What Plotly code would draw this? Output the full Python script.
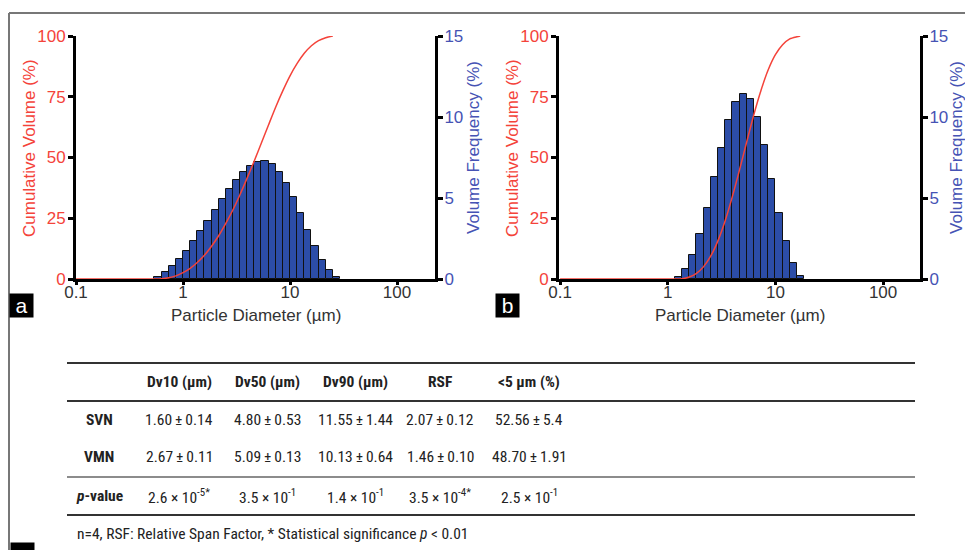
import math
import plotly.graph_objects as go

# ---------------- data ----------------
# histogram bin edges (µm) and volume frequency (%) per bin
edges_a = [0.541, 0.631, 0.736, 0.858, 1.0, 1.166, 1.359, 1.585, 1.848, 2.154, 2.512,
           2.929, 3.415, 3.981, 4.642, 5.412, 6.310, 7.356, 8.577, 10.0, 11.66, 13.59,
           15.85, 18.48, 21.54, 25.12, 29.29]
freq_a = [0.10, 0.41, 0.78, 1.24, 1.75, 2.33, 2.95, 3.61, 4.27, 4.91, 5.55, 6.13, 6.60,
          6.99, 7.20, 7.28, 7.08, 6.60, 5.92, 5.05, 4.09, 3.03, 2.02, 1.20, 0.56, 0.12]
cum_a_x = [0.1, 0.541, 0.631, 0.736, 0.858, 1.0, 1.166, 1.359, 1.585, 1.848, 2.154, 2.512,
           2.929, 3.415, 3.981, 4.642, 5.412, 6.310, 7.356, 8.577, 10.0, 11.66, 13.59,
           15.85, 18.48, 21.54, 25.12]
cum_a_y = [0, 0, 0.1, 0.5, 1.3, 2.6, 4.4, 6.8, 9.8, 13.5, 17.8, 22.9, 28.5, 34.8, 41.6,
           48.7, 56.1, 63.5, 70.8, 77.5, 83.6, 88.7, 92.9, 96.0, 98.1, 99.3, 100]

edges_b = [1.166, 1.359, 1.585, 1.848, 2.154, 2.512, 2.929, 3.415, 3.981, 4.642, 5.412,
           6.310, 7.356, 8.577, 10.0, 11.66, 13.59, 15.85, 18.48]
freq_b = [0.14, 0.62, 1.49, 2.77, 4.41, 6.27, 8.11, 9.79, 10.95, 11.44, 11.13, 9.99,
          8.26, 6.19, 4.10, 2.34, 0.99, 0.21]
cum_b_x = [0.1, 1.166, 1.359, 1.585, 1.848, 2.154, 2.512, 2.929, 3.415, 3.981, 4.642,
           5.412, 6.310, 7.356, 8.577, 10.0, 11.66, 13.59, 15.85, 17.0]
cum_b_y = [0, 0, 0.1, 0.8, 2.3, 5.1, 9.5, 15.8, 24.0, 33.9, 44.9, 56.4, 67.7, 77.7,
           86.1, 92.3, 96.4, 98.8, 99.7, 100]

x_tickvals = [0.1, 1, 10, 100]
x_ticktext = ["0.1", "1", "10", "100"]
cum_ticks = [0, 25, 50, 75, 100]
freq_ticks = [0, 5, 10, 15]

# table
col_headers = ["Dv10 (µm)", "Dv50 (µm)", "Dv90 (µm)", "RSF", "&lt;5 µm (%)"]
row_labels = ["SVN", "VMN", "<i>p</i>-value"]
svn_vals = ["1.60\u2009±\u20090.14", "4.80\u2009±\u20090.53", "11.55\u2009±\u20091.44",
            "2.07\u2009±\u20090.12", "52.56\u2009±\u20095.4"]
vmn_vals = ["2.67\u2009±\u20090.11", "5.09\u2009±\u20090.13", "10.13\u2009±\u20090.64",
            "1.46\u2009±\u20090.10", "48.70\u2009±\u20091.91"]
p_vals = ["2.6 × 10<sup>-5*</sup>", "3.5 × 10<sup>-1</sup>", "1.4 × 10<sup>-1</sup>",
          "3.5 × 10<sup>-4*</sup>", "2.5 × 10<sup>-1</sup>"]
footnote = "n=4, RSF: Relative Span Factor, * Statistical significance <i>p</i> &lt; 0.01"

# ---------------- style ----------------
W, H = 965, 550
RED = "#F4433A"
BLUE = "#2C4DA8"
BLUE_T = "#4653B4"
FONT = "Liberation Sans, Arial, sans-serif"
NARROW = "Liberation Sans Narrow, Arial Narrow, Roboto Condensed, sans-serif"


def px(x):
    return x / W


def py(y):
    return 1 - y / H


def lg(v):
    return [math.log10(t) for t in v]


fig = go.Figure()


def add_panel(edges, freq, cx, cy, xa, ya_bar, ya_line):
    le = lg(edges)
    centers = [(le[i] + le[i + 1]) / 2 for i in range(len(freq))]
    widths = [le[i + 1] - le[i] for i in range(len(freq))]
    fig.add_trace(go.Bar(x=centers, y=freq, width=widths, xaxis=xa, yaxis=ya_bar,
                         marker=dict(color=BLUE, line=dict(color="#111111", width=1)),
                         showlegend=False, hoverinfo="skip"))
    fig.add_trace(go.Scatter(x=lg(cx), y=cy, xaxis=xa, yaxis=ya_line, mode="lines",
                             line=dict(color=RED, width=1.5, shape="spline", smoothing=0.7),
                             showlegend=False, hoverinfo="skip", cliponaxis=False))


add_panel(edges_a, freq_a, cum_a_x, cum_a_y, "x", "y", "y2")
add_panel(edges_b, freq_b, cum_b_x, cum_b_y, "x2", "y3", "y4")

ydom = [py(279), py(36)]
axis_common = dict(showgrid=False, zeroline=False, showline=True, linecolor="black",
                   linewidth=3, ticks="outside", tickcolor="black", tickwidth=2.5,
                   automargin=False)

xcommon = dict(axis_common, tickvals=lg(x_tickvals), ticktext=x_ticktext, ticklen=3,
               ticklabelstandoff=-7,
               tickfont=dict(family=FONT, size=17, color="#333333"))
yl = dict(axis_common, range=[0, 100], side="left", tickvals=cum_ticks, ticklen=5,
          ticklabelstandoff=-1, tickfont=dict(family=FONT, size=17, color=RED))
yr = dict(axis_common, domain=ydom, range=[0, 15], side="right", tickvals=freq_ticks,
          ticklen=5, ticklabelstandoff=-2, tickfont=dict(family=FONT, size=17, color=BLUE_T))
fig.update_layout(
    xaxis=dict(xcommon, domain=[px(76), px(435)], range=[-1, 2.355], anchor="y"),
    xaxis2=dict(xcommon, domain=[px(559), px(920)], range=[-1.01, 2.343], anchor="y3"),
    yaxis=dict(yr, anchor="x"),
    yaxis2=dict(yl, overlaying="y", anchor="x"),
    yaxis3=dict(yr, anchor="x2"),
    yaxis4=dict(yl, overlaying="y3", anchor="x2"),
    bargap=0,
    width=W, height=H, margin=dict(l=0, r=0, t=0, b=0, autoexpand=False),
    paper_bgcolor="white", plot_bgcolor="rgba(0,0,0,0)",
)

ann = []
# axis titles
for xc, xl, xr in [(255.5, 30, 474), (739.5, 513, 957)]:
    ann.append(dict(x=px(xc), y=py(315), text="Particle Diameter (µm)", showarrow=False,
                    font=dict(family=FONT, size=17, color="#333333")))
    ann.append(dict(x=px(xl), y=py(148), text="Cumulative Volume (%)", textangle=-90,
                    showarrow=False, font=dict(family=FONT, size=17, color=RED)))
    ann.append(dict(x=px(xr), y=py(148), text="Volume Frequency (%)", textangle=-90,
                    showarrow=False, font=dict(family=FONT, size=17, color=BLUE_T)))

# panel letters
for letter, lx, ly in [("a", 9, 293), ("b", 495, 293), ("c", 10, 542)]:
    ann.append(dict(x=px(lx), y=py(ly), xanchor="left", yanchor="top", text=letter,
                    showarrow=False, bgcolor="black", width=23, height=23, borderpad=0,
                    font=dict(family=FONT, size=21, color="white")))

# table
col_x = [179, 267, 355, 440, 529]
label_x = 99
row_y = [420, 457, 496]
tfont = dict(family=NARROW, size=15.5, color="#222222")
for cxp, h in zip(col_x, col_headers):
    ann.append(dict(x=px(cxp), y=py(382), text="<b>" + h + "</b>", showarrow=False, font=tfont))
for ry, lab, vals in zip(row_y, row_labels, [svn_vals, vmn_vals, p_vals]):
    ann.append(dict(x=px(label_x), y=py(ry), text="<b>" + lab + "</b>", showarrow=False, font=tfont))
    for cxp, v in zip(col_x, vals):
        ann.append(dict(x=px(cxp), y=py(ry), text=v, showarrow=False, font=tfont))
ann.append(dict(x=px(75), y=py(534), xanchor="left", text=footnote, showarrow=False, font=tfont))

for a in ann:
    a.setdefault("xref", "paper")
    a.setdefault("yref", "paper")
    a.setdefault("xanchor", "center")
    a.setdefault("yanchor", "middle")
fig.update_layout(annotations=ann)

shapes = []
# frame
shapes.append(dict(type="line", xref="paper", yref="paper", x0=px(9), x1=1, y0=py(13), y1=py(13),
                   line=dict(color="#777777", width=2)))
shapes.append(dict(type="line", xref="paper", yref="paper", x0=px(9), x1=px(9), y0=py(13), y1=0,
                   line=dict(color="#777777", width=2)))
# table rules
for yy, wd, colr in [(363, 2.2, "#333333"), (401, 2.2, "#333333"), (477, 1.5, "#666666"),
                     (515, 2.2, "#333333")]:
    shapes.append(dict(type="line", xref="paper", yref="paper", x0=px(67), x1=px(915),
                       y0=py(yy), y1=py(yy), line=dict(color=colr, width=wd)))
fig.update_layout(shapes=shapes)

fig.write_html("out.html", config={"displayModeBar": False},
               post_script="document.body.style.margin='0';document.body.style.overflow='hidden';")
